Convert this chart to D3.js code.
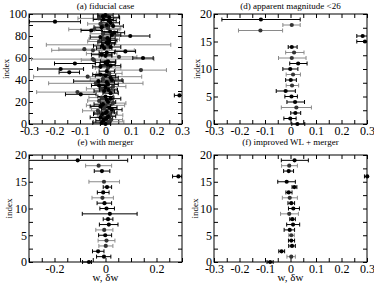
<!DOCTYPE html>
<html>
<head>
<meta charset="utf-8">
<script src="https://cdn.jsdelivr.net/npm/d3@7"></script>
<style>
  body { margin: 0; background: #fff; }
  text { font-family: "Liberation Serif", "Times New Roman", serif; }
</style>
</head>
<body>
<svg id="fig" width="374" height="285"></svg>
<script>
// (a) fiducial case: 100 realisations, w and symmetric error, 1 = grey bar
const fidW = [
  0.000, -0.015, 0.012, -0.008, 0.022, 0.003, -0.020, 0.010, 0.018, -0.012,
  0.000, 0.005, -0.030, 0.025, -0.005, 0.015, -0.020, 0.000, -0.010, 0.030,
  0.010, -0.025, 0.005, 0.020, -0.015, 0.000, 0.290, -0.097, 0.020, -0.110,
  -0.005, 0.012, -0.015, 0.000, 0.030, -0.025, 0.010, -0.038, 0.005, -0.028,
  0.025, -0.010, 0.020, -0.070, 0.000, -0.020, 0.015, -0.142, 0.005, 0.139,
  -0.176, 0.010, -0.020, 0.020, 0.008, -0.120, 0.000, 0.010, -0.045, -0.050,
  0.147, 0.053, 0.000, -0.015, -0.015, 0.005, 0.078, -0.049, -0.083, -0.005,
  0.020, -0.012, 0.012, 0.010, 0.005, -0.025, 0.015, -0.005, 0.008, -0.020,
  0.097, 0.025, -0.010, 0.035, 0.018, -0.056, -0.044, 0.010, -0.015, 0.030,
  0.005, -0.020, 0.020, -0.198, 0.012, -0.008, -0.026, 0.015, -0.010, 0.000
];
const fidErr = [
  0.020, 0.035, 0.060, 0.030, 0.045, 0.025, 0.040, 0.030, 0.050, 0.035,
  0.045, 0.030, 0.060, 0.040, 0.050, 0.030, 0.040, 0.075, 0.035, 0.050,
  0.030, 0.045, 0.025, 0.040, 0.050, 0.030, 0.020, 0.060, 0.030, 0.160,
  0.040, 0.035, 0.060, 0.025, 0.050, 0.030, 0.040, 0.185, 0.030, 0.097,
  0.040, 0.050, 0.030, 0.212, 0.040, 0.030, 0.050, 0.040, 0.030, 0.100,
  0.090, 0.050, 0.030, 0.040, 0.030, 0.080, 0.040, 0.030, 0.050, 0.240,
  0.040, 0.070, 0.025, 0.040, 0.060, 0.030, 0.040, 0.162, 0.100, 0.030,
  0.040, 0.035, 0.244, 0.025, 0.035, 0.045, 0.030, 0.060, 0.030, 0.040,
  0.077, 0.035, 0.050, 0.040, 0.030, 0.040, 0.100, 0.050, 0.030, 0.040,
  0.025, 0.050, 0.035, 0.100, 0.030, 0.040, 0.082, 0.040, 0.020, 0.030
];
const fidGray = [
  0,0,1,0,1,0,0,0,1,0,  0,0,1,0,1,0,0,1,0,1,  0,1,0,0,1,0,0,0,0,1,
  0,0,1,0,1,0,0,1,0,0,  0,1,0,1,0,0,1,0,0,1,  0,1,0,0,0,0,0,0,1,1,
  0,1,0,0,1,0,0,1,1,0,  0,0,1,0,0,1,0,1,0,0,  0,0,1,0,0,0,1,1,0,0,
  0,1,0,0,0,0,1,0,0,0
];

// (d) apparent magnitude < 26
const magW  = [0.027, -0.001, 0.019, 0.023, 0.018, 0.004, -0.019, 0.006, 0.001, 0.010,
               -0.001, 0.030, 0.005, 0.014, 0.005, 0.292, 0.283, -0.118, 0.005, -0.116];
const magLo = [0.005, -0.026, 0.001, -0.036, -0.014, -0.022, -0.056, -0.017, -0.019, -0.017,
               -0.030, -0.003, -0.047, -0.019, -0.009, 0.260, 0.260, -0.204, -0.030, -0.269];
const magHi = [0.056, 0.022, 0.040, 0.082, 0.055, 0.027, 0.019, 0.032, 0.023, 0.039,
               0.029, 0.065, 0.061, 0.053, 0.026, 0.320, 0.320, -0.031, 0.038, 0.038];
const magGray = [0,0,0,1,0,0,0,1,0,1, 0,0,1,1,0,0,0,1,1,0];

// (e) with merger
const mergW  = [-0.065, -0.006, -0.029, 0.001, 0.004, -0.001, -0.005, 0.013, 0.010, 0.017,
                0.004, -0.004, -0.012, -0.009, 0.006, -0.006, 0.286, -0.014, -0.027, -0.109];
const mergLo = [-0.090, -0.035, -0.051, -0.026, -0.029, -0.027, -0.038, -0.024, -0.009, -0.091,
                -0.022, -0.033, -0.053, -0.032, -0.009, -0.065, 0.263, -0.044, -0.078, -0.320];
const mergHi = [-0.055, 0.021, -0.006, 0.029, 0.037, 0.024, 0.029, 0.049, 0.029, 0.124,
                0.035, 0.024, 0.031, 0.014, 0.024, 0.055, 0.299, 0.017, 0.024, 0.087];
const mergGray = [0,0,0,1,1,0,1,0,0,0, 0,0,1,0,0,1,0,0,1,0];

// (f) improved WL + merger
const wlW  = [-0.080, 0.003, -0.035, 0.006, 0.003, 0.003, -0.003, 0.010, 0.007, -0.005,
              0.011, 0.003, -0.003, -0.007, 0.015, -0.015, 0.301, -0.007, -0.005, 0.016];
const wlLo = [-0.092, -0.014, -0.046, -0.007, -0.008, -0.007, -0.025, -0.015, -0.003, -0.039,
              -0.008, -0.010, -0.032, -0.018, 0.006, -0.050, 0.290, -0.027, -0.035, -0.036];
const wlHi = [-0.068, 0.019, -0.023, 0.019, 0.016, 0.015, 0.016, 0.036, 0.019, 0.031,
              0.035, 0.016, 0.027, 0.006, 0.025, 0.019, 0.320, 0.012, 0.027, 0.070];
const wlGray = [0,1,0,0,0,1,0,0,0,1, 0,0,1,0,0,0,0,0,1,0];

const svg = d3.select('#fig');
const grey = '#8a8a8a';
const fmt = d => Math.abs(d) < 1e-9 ? '0' : String(+d.toFixed(1));

const panels = [
  { id: 'a', title: '(a) fiducial case', l: 29, r: 182, t: 14, b: 124, ymax: 100, ystep: 10, ylab: 20, xlab: 0.1, ty: 9, lx: 9 },
  { id: 'd', title: '(d) apparent magnitude <26', l: 214, r: 367, t: 14, b: 124, ymax: 20, ystep: 2.5, ylab: 5, xlab: 0.1, ty: 9, lx: 200 },
  { id: 'e', title: '(e) with merger', l: 29, r: 182, t: 155, b: 262, ymax: 20, ystep: 2.5, ylab: 5, xlab: 0.2, ty: 145, lx: 12, xtitle: true },
  { id: 'f', title: '(f) improved WL + merger', l: 214, r: 367, t: 155, b: 262, ymax: 20, ystep: 2.5, ylab: 5, xlab: 0.1, ty: 145, lx: 198, xtitle: true }
];

const series = {
  a: { w: fidW, lo: fidW.map((v, i) => v - fidErr[i]), hi: fidW.map((v, i) => v + fidErr[i]), gray: fidGray },
  d: { w: magW, lo: magLo, hi: magHi, gray: magGray },
  e: { w: mergW, lo: mergLo, hi: mergHi, gray: mergGray },
  f: { w: wlW, lo: wlLo, hi: wlHi, gray: wlGray }
};

function styleAxis(sel) {
  sel.select('.domain').remove();
  sel.attr('font-family', null).attr('font-size', null);
  sel.selectAll('line').attr('stroke', '#000');
  sel.selectAll('text').attr('font-size', 12).attr('fill', '#000');
}

panels.forEach(p => {
  const s = series[p.id];
  const x = d3.scaleLinear().domain([-0.3, 0.3]).range([p.l, p.r]);
  const y = d3.scaleLinear().domain([0, p.ymax]).range([p.b, p.t]);
  const g = svg.append('g');

  const xt = d3.range(-6, 7).map(k => k * 0.05);
  const yt = d3.range(0, p.ymax + 1e-9, p.ystep);
  const xStep = Math.round(p.xlab * 100);
  const fx = d => Math.round(d * 100) % xStep === 0 ? fmt(d) : '';
  const fy = d => Math.abs(d / p.ylab - Math.round(d / p.ylab)) < 1e-9 ? String(d) : '';

  g.append('g').attr('transform', `translate(0,${p.b})`)
    .call(d3.axisBottom(x).tickValues(xt).tickSize(-4).tickPadding(2).tickFormat(fx)).call(styleAxis);
  g.append('g').attr('transform', `translate(0,${p.t})`)
    .call(d3.axisTop(x).tickValues(xt).tickSize(-4).tickFormat('')).call(styleAxis);
  g.append('g').attr('transform', `translate(${p.l},0)`)
    .call(d3.axisLeft(y).tickValues(yt).tickSize(-4).tickPadding(2).tickFormat(fy)).call(styleAxis);
  g.append('g').attr('transform', `translate(${p.r},0)`)
    .call(d3.axisRight(y).tickValues(yt).tickSize(-4).tickFormat('')).call(styleAxis);

  // clip for error bars
  svg.append('clipPath').attr('id', 'clip-' + p.id)
    .append('rect').attr('x', p.l).attr('y', p.t - 3).attr('width', p.r - p.l).attr('height', p.b - p.t + 6);

  const idx = d3.range(s.w.length);
  // grey bars first, black on top
  const order = idx.filter(i => s.gray[i]).concat(idx.filter(i => !s.gray[i]));
  const bars = g.append('g').attr('clip-path', `url(#clip-${p.id})`)
    .selectAll('g').data(order).join('g')
    .attr('stroke', i => s.gray[i] ? grey : '#000').attr('stroke-width', 1);
  bars.append('line')
    .attr('x1', i => x(s.lo[i])).attr('x2', i => x(s.hi[i]))
    .attr('y1', i => y(i)).attr('y2', i => y(i));
  bars.append('line')
    .attr('x1', i => x(s.lo[i])).attr('x2', i => x(s.lo[i]))
    .attr('y1', i => y(i) - 2).attr('y2', i => y(i) + 2);
  bars.append('line')
    .attr('x1', i => x(s.hi[i])).attr('x2', i => x(s.hi[i]))
    .attr('y1', i => y(i) - 2).attr('y2', i => y(i) + 2);

  g.append('g').selectAll('circle').data(order).join('circle')
    .attr('cx', i => x(s.w[i])).attr('cy', i => y(i)).attr('r', 2.1)
    .attr('fill', i => s.gray[i] ? '#333' : '#000');

  g.append('rect').attr('x', p.l).attr('y', p.t).attr('width', p.r - p.l).attr('height', p.b - p.t)
    .attr('fill', 'none').attr('stroke', '#000').attr('stroke-width', 1);

  g.append('text').attr('x', (p.l + p.r) / 2).attr('y', p.ty).attr('text-anchor', 'middle')
    .attr('font-size', 9).text(p.title);

  g.append('text').attr('transform', `translate(${p.lx},${(p.t + p.b) / 2}) rotate(-90)`)
    .attr('text-anchor', 'middle').attr('font-size', 9).text('index');

  if (p.xtitle) {
    g.append('text').attr('x', (p.l + p.r) / 2).attr('y', 281).attr('text-anchor', 'middle')
      .attr('font-size', 11).text('w, δw');
  }
});
</script>
</body>
</html>
